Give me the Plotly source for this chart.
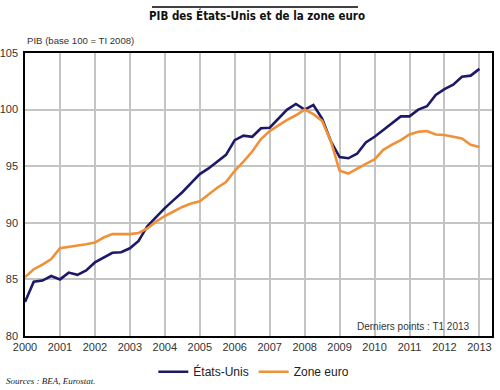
import plotly.graph_objects as go

years = list(range(2000, 2014))
quarters = [(y, q) for y in range(2000, 2013) for q in (1, 2, 3, 4)] + [(2013, 1)]
period_labels = [f"T{q} {y}" for (y, q) in quarters]

etats_unis = [83.0, 84.8, 84.9, 85.3, 85.0, 85.6, 85.4, 85.8,
              86.5, 86.9, 87.35, 87.4, 87.75, 88.4, 89.7, 90.5,
              91.3, 92.0, 92.7, 93.5, 94.3, 94.8, 95.4, 96.0,
              97.3, 97.7, 97.6, 98.35, 98.4, 99.2, 100.0, 100.5,
              100.0, 100.4, 99.2, 97.2, 95.8, 95.7, 96.1, 97.1,
              97.6, 98.2, 98.8, 99.4, 99.4, 100.0, 100.3, 101.3,
              101.8, 102.2, 102.9, 103.0, 103.6]
zone_euro = [85.2, 85.9, 86.3, 86.8, 87.75, 87.85, 87.95, 88.1,
             88.25, 88.7, 89.0, 89.0, 89.0, 89.1, 89.5, 90.1,
             90.6, 91.0, 91.4, 91.7, 91.9, 92.5, 93.1, 93.6,
             94.6, 95.4, 96.3, 97.4, 98.1, 98.6, 99.1, 99.5,
             100.0, 99.6, 99.0, 97.2, 94.6, 94.35, 94.8, 95.2,
             95.6, 96.45, 96.9, 97.3, 97.8, 98.05, 98.1, 97.8,
             97.75, 97.6, 97.45, 96.9, 96.7]
y_ticks = [80, 85, 90, 95, 100, 105]

x_pos = [y + (q - 1) / 4 for (y, q) in quarters]

navy = "#1c1966"
orange = "#f0913a"
font = "Arial, Liberation Sans, sans-serif"

fig = go.Figure()
fig.add_trace(go.Scatter(x=x_pos, y=etats_unis, mode="lines", name="États-Unis",
                         text=period_labels, line=dict(color=navy, width=2.6)))
fig.add_trace(go.Scatter(x=x_pos, y=zone_euro, mode="lines", name="Zone euro",
                         text=period_labels, line=dict(color=orange, width=2.6)))

fig.update_layout(
    width=500, height=390,
    margin=dict(l=25, r=8, t=53, b=54, autoexpand=False),
    paper_bgcolor="white", plot_bgcolor="white",
    font=dict(family=font, size=11, color="#333333"),
    showlegend=True,
    legend=dict(orientation="h", x=0.49, xanchor="center", y=-0.075, yanchor="top",
                font=dict(size=12, color="#222222"), itemwidth=30,
                tracegroupgap=0, bgcolor="rgba(0,0,0,0)"),
    xaxis=dict(range=[2000, 2013.36], tickmode="array", tickvals=years,
               ticktext=[str(y) for y in years], showgrid=True, automargin=False,
               gridcolor="#c4c4c4", gridwidth=1.5, showline=True, mirror=True,
               linecolor="black", linewidth=1.5, ticks="", zeroline=False,
               tickfont=dict(size=11, color="#333333")),
    yaxis=dict(range=[80, 105], tickmode="array", tickvals=y_ticks, automargin=False,
               showgrid=True, gridcolor="#c4c4c4", gridwidth=1.5, showline=True,
               mirror=True, linecolor="black", linewidth=1.5, ticks="",
               zeroline=False, tickfont=dict(size=11, color="#333333"),
               ticklabelstandoff=3),
)

fig.add_annotation(text="<b>PIB des États-Unis et de la zone euro</b>",
                   xref="paper", yref="paper", x=(257 - 25) / 467, y=1.0, yshift=38,
                   xanchor="center", yanchor="middle", showarrow=False,
                   font=dict(family="Liberation Sans Narrow, DejaVu Sans Condensed, Arial Narrow, Arial", size=11.5, color="#111111"))
fig.add_shape(type="line", xref="paper", yref="paper",
              x0=(152 - 25) / 467, x1=(358 - 25) / 467,
              y0=1 + (53 - 7) / 283, y1=1 + (53 - 7) / 283,
              line=dict(color="black", width=1.5))
fig.add_annotation(text="PIB (base 100 = TI 2008)", xref="paper", yref="paper",
                   x=0, y=1, yshift=13, xanchor="left", yanchor="middle",
                   showarrow=False, font=dict(size=9.6, color="#333333"))
fig.add_annotation(text="Derniers points : T1 2013", xref="paper", yref="paper",
                   x=(472 - 25) / 467, y=0, yshift=10, xanchor="right",
                   yanchor="middle", showarrow=False,
                   font=dict(size=10, color="#333333"))
fig.add_annotation(text="<i>Sources : BEA, Eurostat.</i>", xref="paper", yref="paper",
                   x=0, xshift=-21, y=0, yshift=-45, xanchor="left", yanchor="middle",
                   showarrow=False,
                   font=dict(family="Liberation Serif, Times New Roman, serif", size=9, color="#222222"))

fig.write_html("out.html", config={"displayModeBar": False},
               post_script="document.body.style.margin='0';document.body.style.padding='0';")
